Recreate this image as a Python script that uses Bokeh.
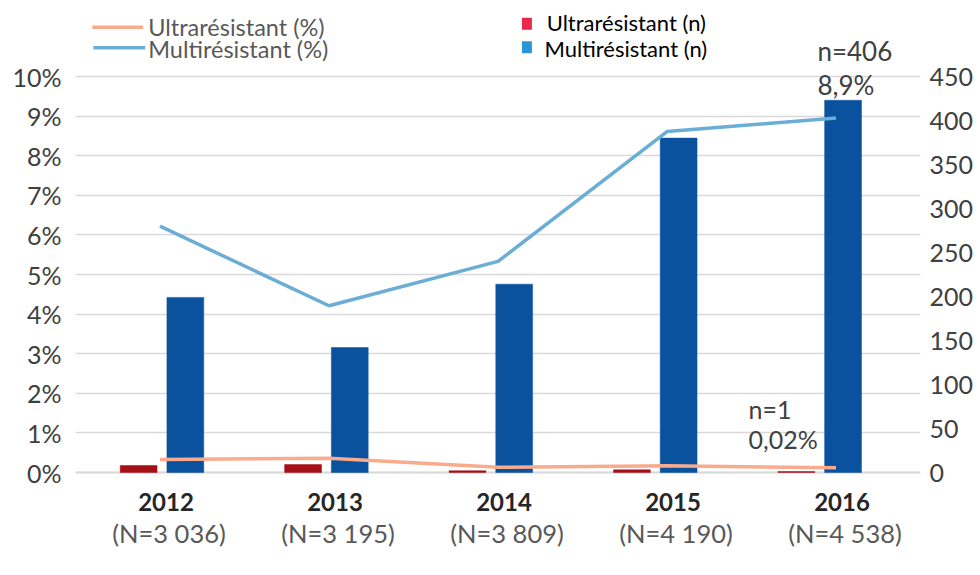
import numpy as np
from bokeh.plotting import figure
from bokeh.models import Range1d, LinearAxis, FixedTicker, ColumnDataSource, Span
from bokeh.core.properties import value
from bokeh.embed import file_html
from bokeh.resources import INLINE

# ---------------- data ----------------
years = ["2012", "2013", "2014", "2015", "2016"]
totals = ["(N=3 036)", "(N=3 195)", "(N=3 809)", "(N=4 190)", "(N=4 538)"]
ultra_n = [8, 9, 2, 3, 1]
multi_n = [199, 142, 214, 380, 423]
ultra_pct = [0.33, 0.36, 0.13, 0.17, 0.12]
multi_pct = [6.22, 4.21, 5.33, 8.61, 8.95]
pct_ticks = list(range(0, 11))
n_ticks = list(range(0, 451, 50))
legend_line_labels = ["Ultrarésistant (%)", "Multirésistant (%)"]
legend_bar_labels = ["Ultrarésistant (n)", "Multirésistant (n)"]
note_multi = ["n=406", "8,9%"]
note_ultra = ["n=1", "0,02%"]

# ---------------- styles ----------------
FONT = value("Lato")
C_ULTRA_LINE = "#F8AB8D"
C_MULTI_LINE = "#6AAED6"
C_ULTRA_BAR = "#A50F15"
C_MULTI_BAR = "#0A519E"
C_ULTRA_LEG = "#E8294C"
C_MULTI_LEG = "#2C95D6"
GRID = "#D9D9D9"

W, H = 976, 570
PX = 39.6                       # pixels per 1 %
Y_TOP = 10 + 76 / PX
Y_BOT = -(H - 472) / PX
N_PER_PCT = 45.0                # 450 (n) <-> 10 %

idx = np.arange(len(years))

p = figure(width=W, height=H,
           x_range=Range1d(-0.5, 4.5), y_range=Range1d(Y_BOT, Y_TOP),
           x_axis_location=None, y_axis_location="left",
           output_backend="svg", toolbar_location=None,
           min_border_left=75, min_border_right=W - 925,
           min_border_top=0, min_border_bottom=0,
           outline_line_color=None, background_fill_color="white")
p.extra_y_ranges = {"n": Range1d(Y_BOT * N_PER_PCT, Y_TOP * N_PER_PCT)}
p.extra_x_ranges = {"bars": Range1d(-0.526, 4.613)}

# grid
p.xgrid.visible = False
p.ygrid.ticker = FixedTicker(ticks=pct_ticks)
p.ygrid.grid_line_color = GRID
p.ygrid.grid_line_width = 1.3
p.add_layout(Span(location=0, dimension="width", line_color=GRID,
                  line_width=2.2, level="underlay"))

# left axis
ax = p.yaxis[0]
ax.ticker = FixedTicker(ticks=pct_ticks)
ax.major_label_overrides = {t: f"{t}%" for t in pct_ticks}
ax.axis_line_color = None
ax.major_tick_line_color = None
ax.minor_tick_line_color = None
ax.major_label_standoff = 8
ax.major_label_text_font = "Lato"
ax.major_label_text_font_size = "25px"
ax.major_label_text_color = "#404040"

# right axis
rax = LinearAxis(y_range_name="n", ticker=FixedTicker(ticks=n_ticks))
rax.axis_line_color = None
rax.major_tick_line_color = None
rax.minor_tick_line_color = None
rax.major_label_standoff = 3
rax.major_label_text_font = "Lato"
rax.major_label_text_font_size = "25px"
rax.major_label_text_color = "#404040"
p.add_layout(rax, "right")

# bars
src = ColumnDataSource(dict(
    xu=idx - 0.142, xm=idx + 0.142, un=ultra_n, mn=multi_n))
p.vbar(x="xu", top="un", bottom=0, width=0.224, source=src,
       x_range_name="bars", y_range_name="n",
       fill_color=C_ULTRA_BAR, line_color=C_ULTRA_BAR, line_width=0.5)
p.vbar(x="xm", top="mn", bottom=0, width=0.224, source=src,
       x_range_name="bars", y_range_name="n",
       fill_color=C_MULTI_BAR, line_color=C_MULTI_BAR, line_width=0.5)

# lines
p.line(idx, multi_pct, line_color=C_MULTI_LINE, line_width=3.5)
p.line(idx, ultra_pct, line_color=C_ULTRA_LINE, line_width=3.5)

# category labels
p.text(x=idx, y=-0.745, text=years, x_offset=6,
       text_font=FONT, text_font_size="24px", text_font_style="bold",
       text_color="#262626", text_align="center", text_baseline="middle")
p.text(x=idx, y=-1.54, text=totals, x_offset=9,
       text_font=FONT, text_font_size="25.5px",
       text_color="#595959", text_align="center", text_baseline="middle")

# annotations
p.text(x=[3.89, 3.89], y=[10.644, 9.78], text=note_multi,
       text_font=FONT, text_font_size="26px", text_color="#404040",
       text_align="left", text_baseline="middle")
p.text(x=[3.482, 3.482], y=[1.616, 0.846], text=note_ultra,
       text_font=FONT, text_font_size="25px", text_color="#404040",
       text_align="left", text_baseline="middle")

# legend (lines)
p.segment(x0=[-0.40, -0.394], y0=[11.245, 10.725],
          x1=[-0.10, -0.088], y1=[11.245, 10.725],
          line_color=[C_ULTRA_LINE, C_MULTI_LINE], line_width=3.5)
p.text(x=[-0.07, -0.07], y=[11.26, 10.70], text=legend_line_labels,
       text_font=FONT, text_font_size="23.5px", text_color="#595959",
       text_align="left", text_baseline="middle")

# legend (bars)
p.rect(x=[2.171, 2.171], y=[11.33, 10.74], width=10, height=12,
       width_units="screen", height_units="screen",
       fill_color=[C_ULTRA_LEG, C_MULTI_LEG], line_color=None)
p.text(x=[2.288, 2.275], y=[11.36, 10.71], text=legend_bar_labels,
       text_font=FONT, text_font_size="22px", text_color="#000000",
       text_align="left", text_baseline="middle")

open("out.html", "w").write(file_html(p, INLINE))
